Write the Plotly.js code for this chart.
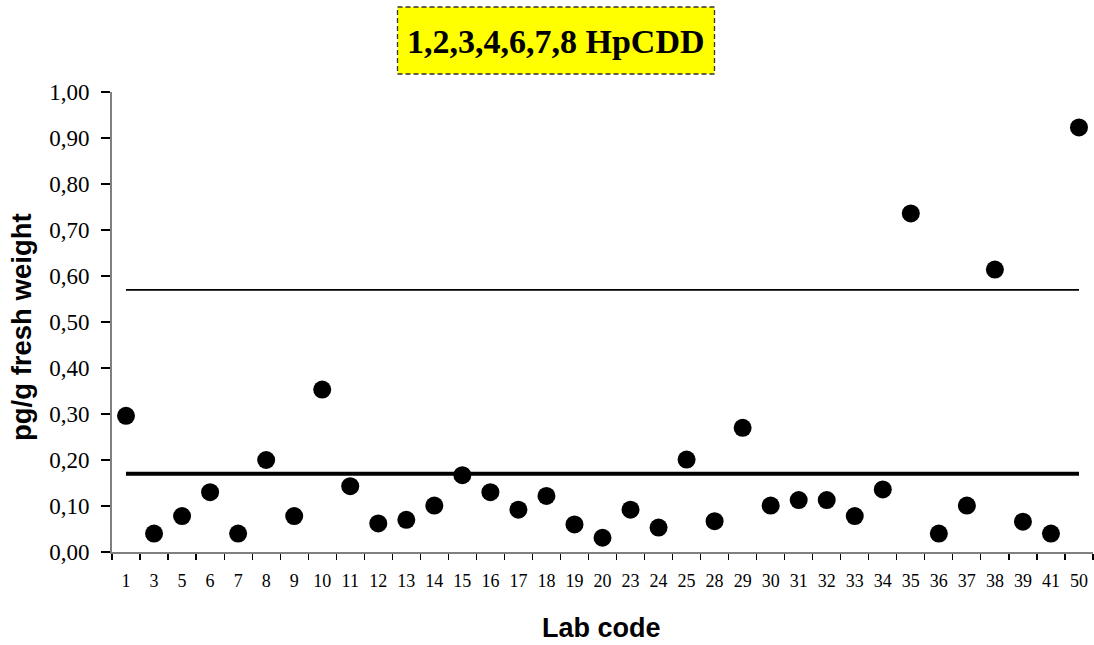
<!DOCTYPE html>
<html>
<head>
<meta charset="utf-8">
<script src="https://cdn.plot.ly/plotly-3.0.1.min.js"></script>
<style>
html, body { margin: 0; padding: 0; background: #fff; }
#chart { width: 1094px; height: 645px; }
</style>
</head>
<body>
<div id="chart"></div>
<script>
const labCodes = ['1','3','5','6','7','8','9','10','11','12','13','14','15','16','17','18','19','20','23','24','25','28','29','30','31','32','33','34','35','36','37','38','39','41','50'];
const results = [0.296,0.040,0.078,0.130,0.040,0.200,0.078,0.353,0.143,0.062,0.070,0.101,0.167,0.130,0.092,0.122,0.060,0.031,0.092,0.053,0.201,0.067,0.270,0.101,0.113,0.113,0.078,0.136,0.736,0.040,0.101,0.614,0.066,0.040,0.923];
const lowerLimit = 0.170;
const upperLimit = 0.570;
const yTicks = [0,0.1,0.2,0.3,0.4,0.5,0.6,0.7,0.8,0.9,1.0];
const chartTitle = '1,2,3,4,6,7,8 HpCDD';
const yTitle = 'pg/g fresh weight';
const xTitle = 'Lab code';

const W = 1094, H = 645;
const M = {l: 112, r: 1, t: 92, b: 93};
const pw = W - M.l - M.r, ph = H - M.t - M.b;
const px = x => (x - M.l) / pw;
const py = y => (H - M.b - y) / ph;

const first = labCodes[0], last = labCodes[labCodes.length - 1];

const traces = [
  {x: [first, last], y: [lowerLimit, lowerLimit], mode: 'lines', line: {color: '#000', width: 4}, hoverinfo: 'skip'},
  {x: [first, last], y: [upperLimit, upperLimit], mode: 'lines', line: {color: '#000', width: 1.8}, hoverinfo: 'skip'},
  {x: labCodes, y: results, mode: 'markers', marker: {color: '#000', size: 18}}
];

const layout = {
  width: W, height: H,
  margin: M,
  paper_bgcolor: '#fff', plot_bgcolor: '#fff',
  showlegend: false,
  separators: ', ',
  xaxis: {
    type: 'category',
    categoryorder: 'array', categoryarray: labCodes,
    range: [-0.5, labCodes.length - 0.5],
    tickson: 'boundaries',
    ticks: 'outside', ticklen: 6, tickcolor: '#000', tickwidth: 1.2,
    showline: true, linecolor: '#808080', linewidth: 2,
    showgrid: false, zeroline: false,
    tickfont: {family: 'Liberation Serif', size: 18, color: '#000'},
    ticklabelstandoff: 11,
    fixedrange: true
  },
  yaxis: {
    range: [0, 1],
    tickvals: yTicks, tickformat: '.2f',
    ticks: 'outside', ticklen: 9, tickcolor: '#000', tickwidth: 1.2,
    showline: true, linecolor: '#808080', linewidth: 2,
    showgrid: false, zeroline: false,
    tickfont: {family: 'Liberation Serif', size: 23, color: '#000'},
    ticklabelstandoff: 7,
    fixedrange: true
  },
  shapes: [
    {type: 'rect', xref: 'paper', yref: 'paper',
     x0: px(397.5), x1: px(714.5), y0: py(74), y1: py(7),
     fillcolor: '#ffff00', line: {color: '#333', width: 1.3, dash: '5px,3px'}, layer: 'above'}
  ],
  annotations: [
    {text: '<b>' + chartTitle + '</b>', xref: 'paper', yref: 'paper',
     x: px(556), y: py(41), xanchor: 'center', yanchor: 'middle', showarrow: false,
     font: {family: 'Liberation Serif', size: 34, color: '#000'}},
    {text: '<b>' + yTitle + '</b>', xref: 'paper', yref: 'paper',
     x: px(21), y: py(327), xanchor: 'center', yanchor: 'middle', showarrow: false, textangle: -90,
     font: {family: 'Liberation Sans', size: 27.5, color: '#000'}},
    {text: '<b>' + xTitle + '</b>', xref: 'paper', yref: 'paper',
     x: px(601), y: py(628), xanchor: 'center', yanchor: 'middle', showarrow: false,
     font: {family: 'Liberation Sans', size: 27, color: '#000'}}
  ]
};

Plotly.newPlot('chart', traces, layout, {displayModeBar: false, staticPlot: true});
</script>
</body>
</html>
